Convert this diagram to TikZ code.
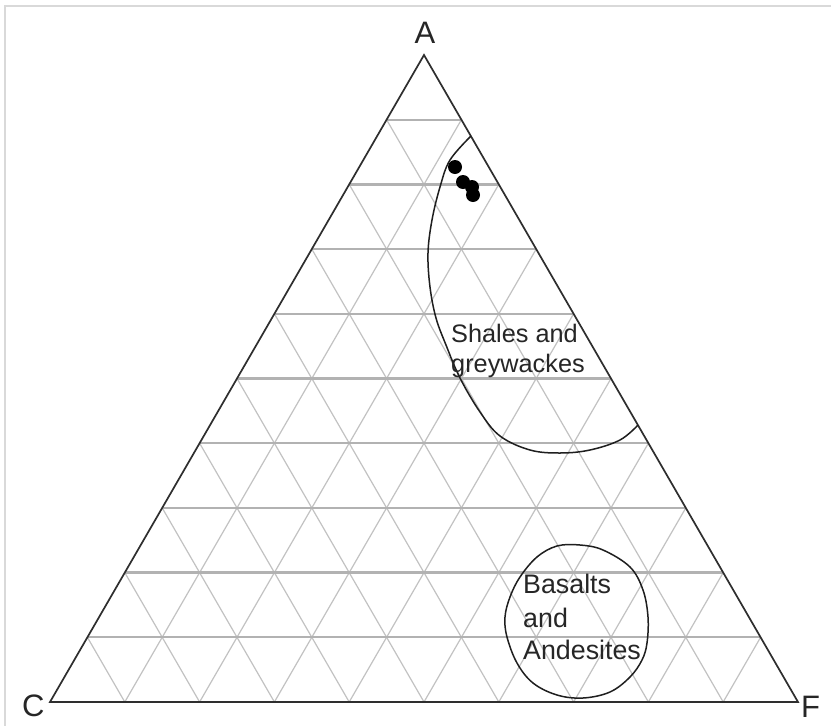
\documentclass[tikz,border=0pt]{standalone}
\usepackage{fontspec}
\setmainfont{Liberation Sans}
\usetikzlibrary{calc}
\begin{document}
\begin{tikzpicture}[x=1pt,y=-1pt,
  outline/.style={draw=black!82, line width=1.7pt, line join=miter},
  hgrid/.style={draw=black!30, line width=2.2pt},
  dgrid/.style={draw=black!24, line width=1.2pt},
  field/.style={draw=black!88, line width=1.5pt},
  sample/.style={fill=black},
  lbl/.style={font=\fontsize{31}{31}\selectfont, inner sep=0pt, text=black!85},
  ftext/.style={font=\fontsize{25.3}{25.3}\selectfont, inner sep=0pt, text=black!85, anchor=base west},
  btext/.style={font=\fontsize{26.8}{26.8}\selectfont, inner sep=0pt, text=black!85, anchor=base west}]
\useasboundingbox (0,0) rectangle (831,726);
\fill[white] (0,0) rectangle (831,726);
\draw[black!15, line width=1.2pt] (5,726) -- (5,6) -- (831,6);
\coordinate (A) at (424,55);
\coordinate (C) at (50,702);
\coordinate (F) at (798,702);
% grid
\foreach \i in {1,...,9}{
  \pgfmathsetmacro\t{\i/10}
  \draw[dgrid] ($(A)!\t!(C)$) -- ($(F)!\t!(C)$);
  \draw[dgrid] ($(A)!\t!(F)$) -- ($(C)!\t!(F)$);
}
\foreach \i in {1,...,9}{
  \pgfmathsetmacro\t{\i/10}
  \draw[hgrid] ($(A)!\t!(C)$) -- ($(A)!\t!(F)$);
}
% outline
\draw[outline] (A) -- (C) -- (F) -- cycle;
% shales field
\draw[field] plot[smooth, tension=0.6] coordinates {(471,136) (450,160) (440,187) (432,220) (428,253) (430,287) (436,318) (446,345) (460,378) (480,412) (500,436) (530,450) (560,453) (590,450) (620,440) (638,425)};
% basalts field
\draw[field] plot[smooth cycle, tension=0.6] coordinates {(557,546) (580,545) (603,550) (630,567) (643,590) (648,617) (647,643) (642,660) (630,677) (610,692) (583,698) (557,695) (533,683) (517,663) (507,637) (505,617) (510,597) (520,577) (537,557)};
% samples
\fill[sample] (455,167) circle (7);
\fill[sample] (463,182) circle (7);
\fill[sample] (472,187) circle (7);
\fill[sample] (473,195) circle (7);
% labels
\node[lbl, anchor=base] (la) at (425,43) {A};
\node[lbl, anchor=base west] (lc) at (22,716) {C};
\node[lbl, anchor=base west] (lf) at (801,717) {F};
\node[ftext] (s1) at (451,342) {Shales and};
\node[ftext] (s2) at (451,372) {greywackes};
\node[btext] (b1) at (523,593) {Basalts};
\node[btext] (b2) at (523,627) {and};
\node[btext] (b3) at (523,659) {Andesites};
\end{tikzpicture}
\end{document}
